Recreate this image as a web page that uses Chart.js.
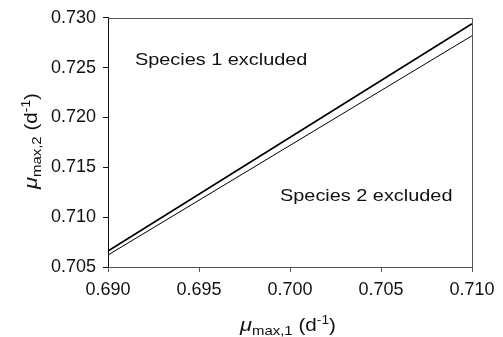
<!DOCTYPE html>
<html>
<head>
<meta charset="utf-8">
<script src="https://cdn.jsdelivr.net/npm/chart.js@4"></script>
<style>
  body { margin: 0; background: #fff; }
  #wrap { width: 503px; height: 337px; }
</style>
</head>
<body>
<div id="wrap"><canvas id="chart"></canvas></div>
<script>
// Data
const xValues = [0.690, 0.710];
const upperLine = [0.7066, 0.7294];
const lowerLine = [0.7062, 0.7282];
const xTicks = [0.690, 0.695, 0.700, 0.705, 0.710];
const yTicks = [0.705, 0.710, 0.715, 0.720, 0.725, 0.730];
const regionLabels = ['Species 1 excluded', 'Species 2 excluded'];

const FONT = '"Liberation Sans", Arial, sans-serif';

function toPoints(ys) {
    return xValues.map((x, i) => ({ x: x, y: ys[i] }));
}

// draw a label made of pieces (main text, subscripts, superscripts), stretched a bit
function drawPieces(ctx, pieces, cx, baseline, stretch) {
    let total = 0;
    pieces.forEach(p => {
        ctx.font = p.font;
        p.w = ctx.measureText(p.t).width;
        total += p.w;
    });
    ctx.save();
    ctx.translate(cx, baseline);
    ctx.scale(stretch, 1);
    let x = -total / 2;
    ctx.textBaseline = 'alphabetic';
    ctx.textAlign = 'left';
    pieces.forEach(p => {
        ctx.font = p.font;
        ctx.fillText(p.t, x, p.dy || 0);
        x += p.w;
    });
    ctx.restore();
}

function titlePieces(sub) {
    return [
        { t: 'μ', font: 'italic 19px ' + FONT },
        { t: sub, font: '13px ' + FONT, dy: 4 },
        { t: ' (d', font: '18px ' + FONT },
        { t: '-1', font: '12px ' + FONT, dy: -7 },
        { t: ')', font: '18px ' + FONT }
    ];
}

const extras = {
    id: 'extras',
    afterDraw(chart) {
        const ctx = chart.ctx;
        const a = chart.chartArea;
        const xs = chart.scales.x;
        const ys = chart.scales.y;
        ctx.save();

        // top and right edges of the frame
        ctx.strokeStyle = '#555';
        ctx.lineWidth = 1;
        ctx.beginPath();
        ctx.moveTo(a.left, Math.round(a.top) + 0.5);
        ctx.lineTo(Math.round(a.right) + 0.5, Math.round(a.top) + 0.5);
        ctx.lineTo(Math.round(a.right) + 0.5, a.bottom);
        ctx.stroke();

        // region labels
        ctx.fillStyle = '#111';
        ctx.font = '17px ' + FONT;
        ctx.textBaseline = 'alphabetic';
        ctx.textAlign = 'left';
        const spots = [[0.69148, 0.7253], [0.69945, 0.7116]];
        regionLabels.forEach((txt, i) => {
            const px = xs.getPixelForValue(spots[i][0]);
            const py = ys.getPixelForValue(spots[i][1]);
            ctx.save();
            ctx.translate(px, py);
            ctx.scale(1.17, 1);
            ctx.fillText(txt, 0, 0);
            ctx.restore();
        });

        // axis titles
        drawPieces(ctx, titlePieces('max,1'), 288, 331, 1.15);
        ctx.save();
        ctx.translate(37, 141);
        ctx.rotate(-Math.PI / 2);
        drawPieces(ctx, titlePieces('max,2'), 0, 0, 1.15);
        ctx.restore();

        ctx.restore();
    }
};

function axisOptions(ticks, borderColor) {
    return {
        type: 'linear',
        min: ticks[0],
        max: ticks[ticks.length - 1],
        afterBuildTicks: s => { s.ticks = ticks.map(v => ({ value: v })); },
        grid: { drawOnChartArea: false, drawTicks: true, tickLength: 5, color: borderColor },
        border: { display: true, color: borderColor, width: 1 },
        ticks: {
            color: '#111',
            padding: 7,
            font: { family: FONT, size: 18 },
            callback: v => v.toFixed(3)
        }
    };
}

const xAxis = axisOptions(xTicks, '#555');
xAxis.afterFit = s => { s.height = 70; };
const yAxis = axisOptions(yTicks, '#111');
yAxis.afterFit = s => { s.width = 108; };

new Chart(document.getElementById('chart'), {
    type: 'scatter',
    data: {
        datasets: [
            {
                data: toPoints(upperLine),
                showLine: true,
                borderColor: '#000',
                borderWidth: 1.6,
                pointRadius: 0
            },
            {
                data: toPoints(lowerLine),
                showLine: true,
                borderColor: '#000',
                borderWidth: 1,
                pointRadius: 0
            }
        ]
    },
    options: {
        responsive: true,
        maintainAspectRatio: false,
        animation: false,
        layout: { padding: { top: 16, right: 31, left: 0, bottom: 0 } },
        plugins: { legend: { display: false }, tooltip: { enabled: false } },
        scales: { x: xAxis, y: yAxis }
    },
    plugins: [extras]
});
</script>
</body>
</html>
